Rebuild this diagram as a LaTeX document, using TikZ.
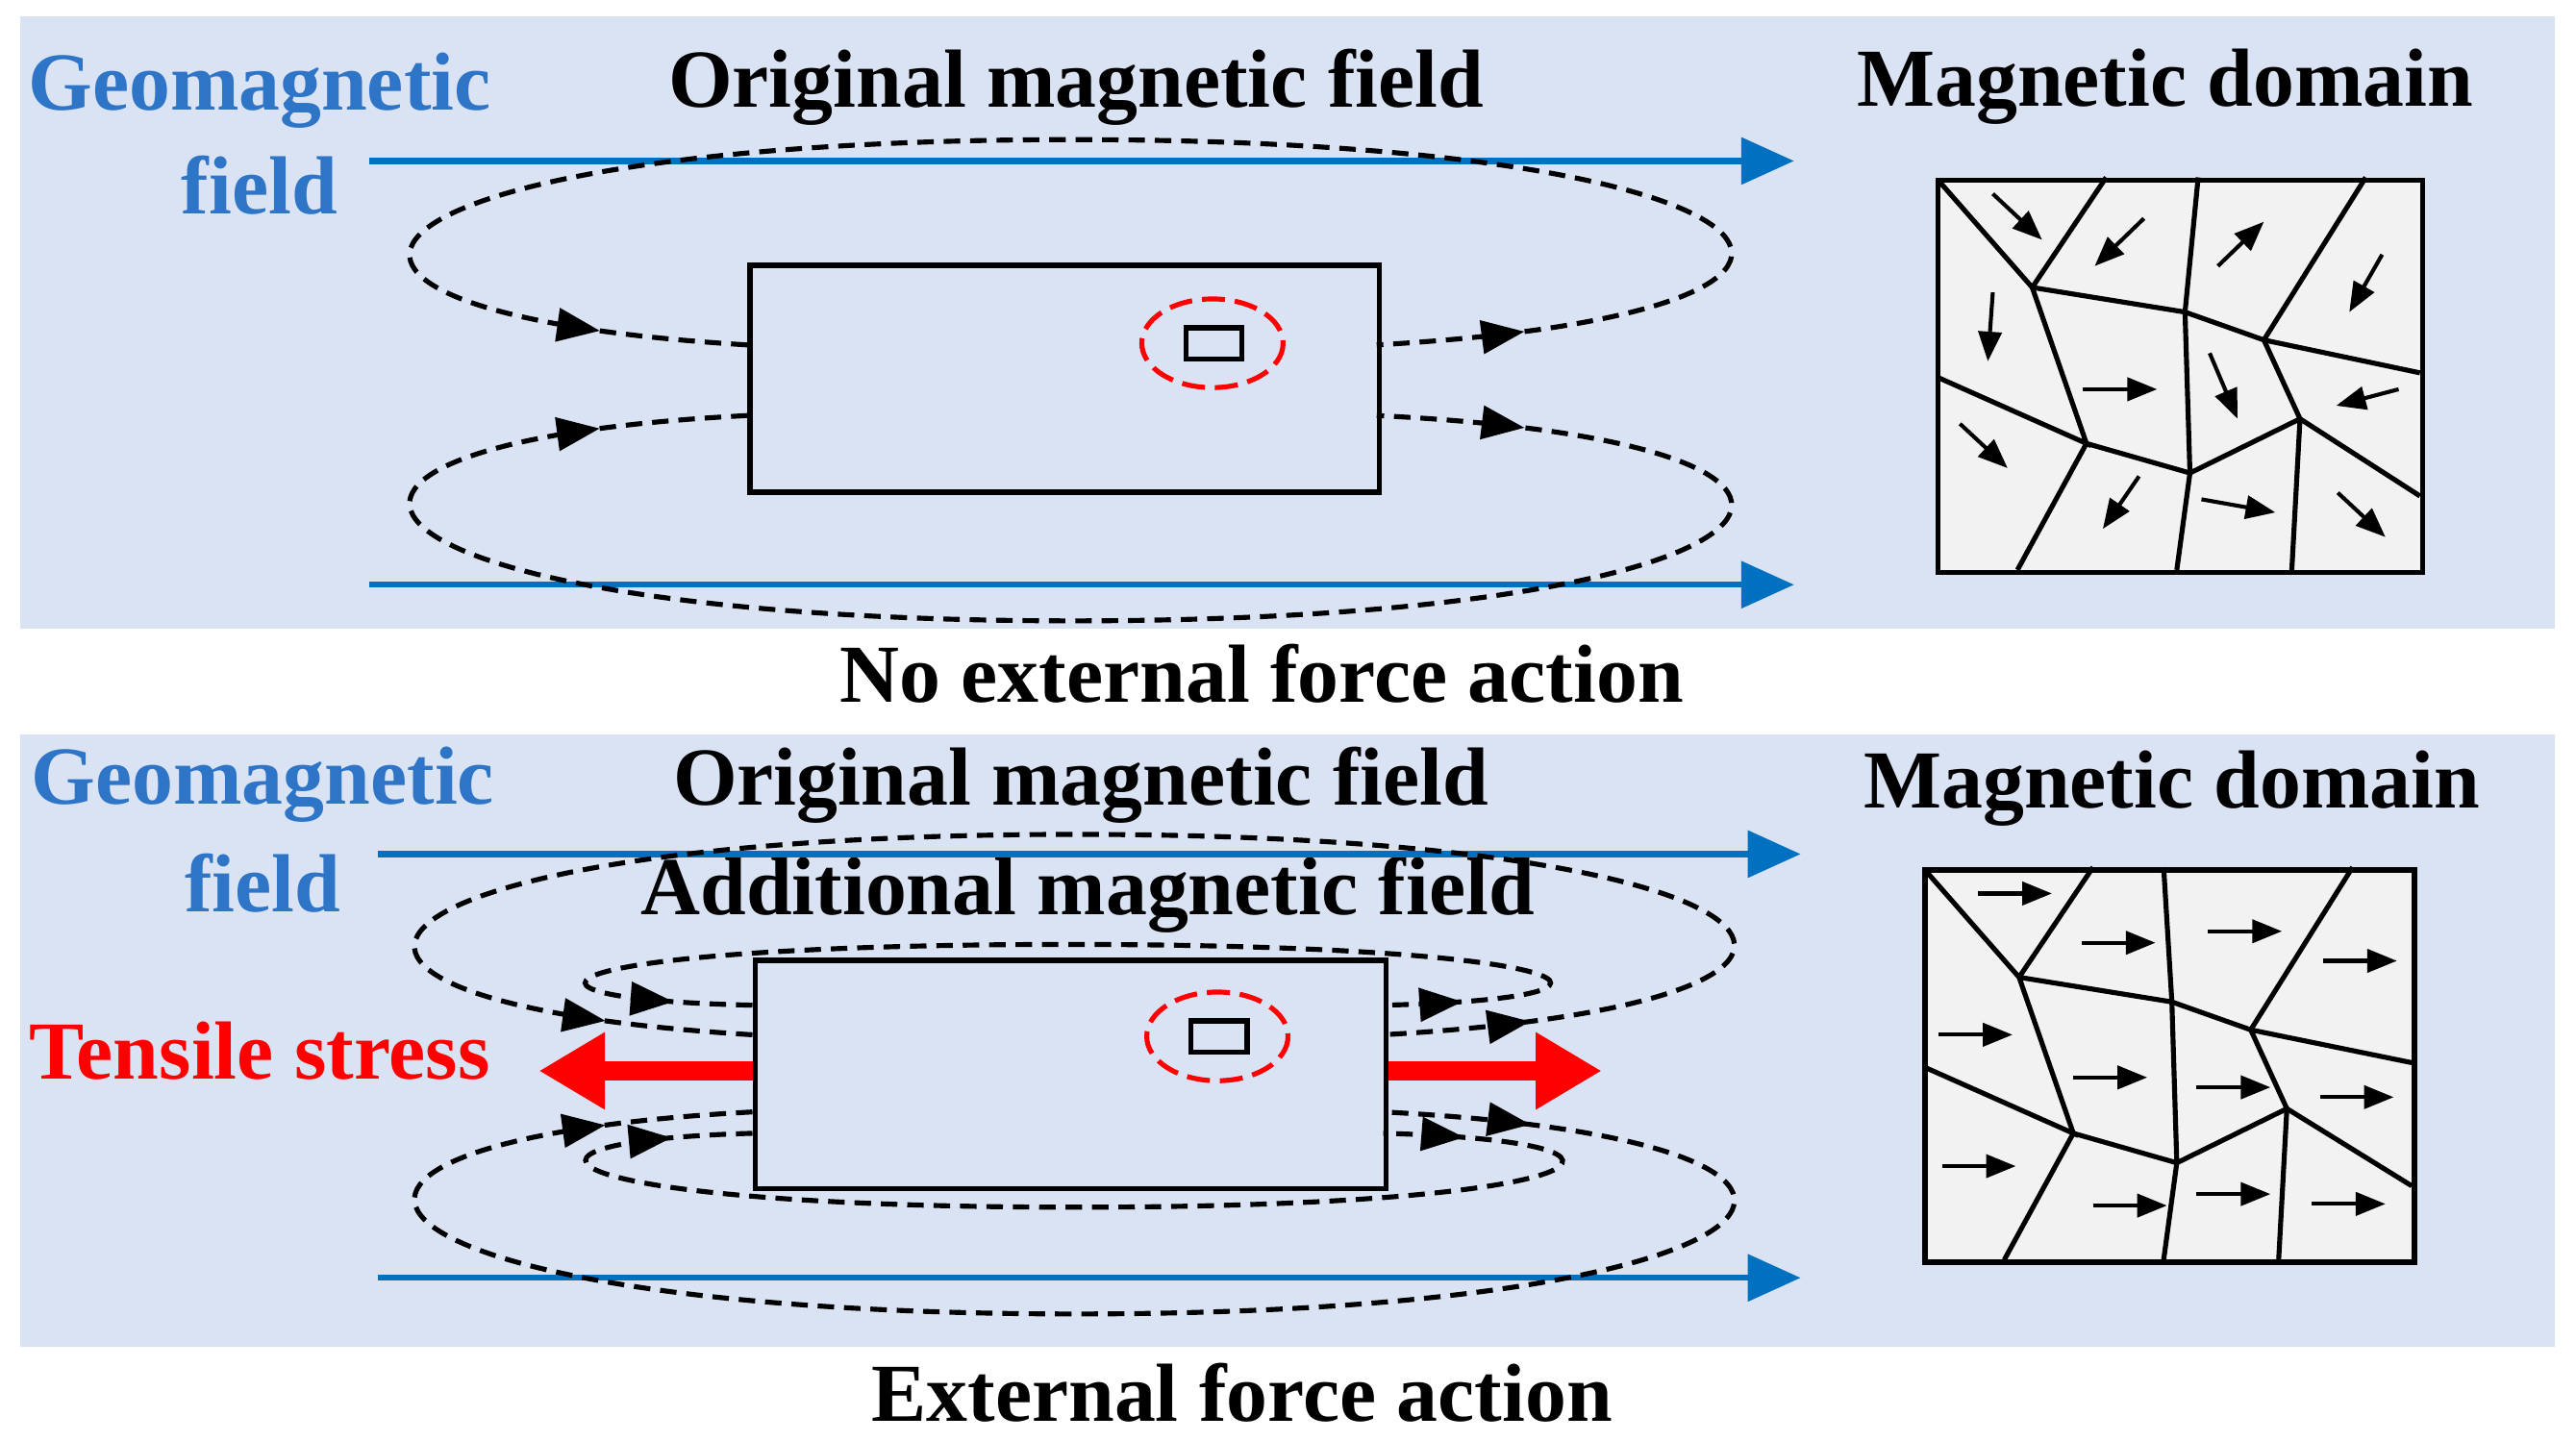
\documentclass[tikz,border=0pt]{standalone}
\usepackage{fontspec}
\setmainfont{Liberation Serif}
\usetikzlibrary{arrows.meta,decorations.markings}
\definecolor{bg}{RGB}{218,227,243}
\definecolor{gblue}{RGB}{46,117,200}
\definecolor{abl}{RGB}{0,112,192}
\definecolor{dom}{RGB}{242,242,242}
\begin{document}
\begin{tikzpicture}[x=0.0175cm,y=-0.0175cm,
 txt/.style={font=\fontsize{25}{27}\selectfont\bfseries,inner sep=0pt},
 geo/.style={txt,text=gblue},
 barr/.style={abl,line width=1.8pt,-{Triangle[length=16pt,width=14pt]}},
 loop/.style 2 args={dash pattern=on 5pt off 3pt,line width=1.5pt,postaction=decorate,
   decoration={markings,mark=at position #1 with {\arrowreversed{Triangle[length=13pt,width=10pt]}},
   mark=at position #2 with {\arrowreversed{Triangle[length=13pt,width=10pt]}}}},
 box/.style={draw,line width=1.6pt},
 dline/.style={line width=1.5pt},
 da/.style={line width=1.2pt,-{Triangle[length=9pt,width=7pt]}},
 rdash/.style={draw=red,dash pattern=on 7pt off 3pt,line width=1.5pt}]
\useasboundingbox (0,0) rectangle (1568,877);
% panels
\fill[bg] (12,10) rectangle (1555,383);
\fill[bg] (12,447) rectangle (1555,820);

% ---------- top panel ----------
\node[geo] (g1) at (158,55) {Geomagnetic};
\node[geo] (f1) at (158,113) {field};
\node[txt] (o1) at (655,53) {Original magnetic field};
\node[txt] (m1) at (1318,53) {Magnetic domain};
\node[txt] (c1) at (768,410) {No external force action};
\coordinate (ba1) at (225,98); \coordinate (bb1) at (1092,98);
\coordinate (ba2) at (225,356); \coordinate (bb2) at (1092,356);
\draw[barr] (ba1) -- (bb1);
\draw[barr] (ba2) -- (bb2);
\node[box,minimum width=383*0.0175cm,minimum height=138*0.0175cm,anchor=north west] (r1) at (455,160) {};
\draw[loop={0.07}{0.93}] (455,210) .. controls (120,190) and (200,85) .. (653,85) .. controls (1106,85) and (1186,190) .. (838,210);
\draw[loop={0.07}{0.93}] (455,253) .. controls (120,270) and (200,378) .. (653,378) .. controls (1106,378) and (1186,270) .. (838,253);
\draw[rdash] (738,209) ellipse [x radius=43,y radius=27];
\node[box,minimum width=34*0.0175cm,minimum height=19*0.0175cm,inner sep=0pt] (s1) at (739,209) {};

% domain top
\begin{scope}
\node[box,fill=dom,minimum width=295*0.0175cm,minimum height=239*0.0175cm,anchor=north west,inner sep=0pt] (d1) at (1178,108) {};
\draw[dline] (1180,110)--(1237,175)--(1282,108);
\draw[dline] (1237,175)--(1330,190)--(1378,207)--(1473,227);
\draw[dline] (1330,190)--(1338,108);
\draw[dline] (1378,207)--(1440,108);
\draw[dline] (1180,230)--(1270,270)--(1237,175);
\draw[dline] (1270,270)--(1333,288)--(1400,255)--(1378,207);
\draw[dline] (1330,190)--(1333,288);
\draw[dline] (1400,255)--(1473,302);
\draw[dline] (1270,270)--(1228,347);
\draw[dline] (1333,288)--(1325,347);
\draw[dline] (1400,255)--(1395,347);
\draw[da] (1213,118)--(1243,146);
\draw[da] (1305,133)--(1275,162);
\draw[da] (1350,162)--(1378,135);
\draw[da] (1450,155)--(1430,190);
\draw[da] (1213,178)--(1210,220);
\draw[da] (1268,237)--(1313,237);
\draw[da] (1345,215)--(1362,255);
\draw[da] (1460,237)--(1422,247);
\draw[da] (1193,258)--(1222,285);
\draw[da] (1302,290)--(1280,322);
\draw[da] (1340,304)--(1385,312);
\draw[da] (1423,300)--(1452,327);
\end{scope}

% ---------- bottom panel ----------
\node[geo] (g2) at (160,478) {Geomagnetic};
\node[geo] (f2) at (160,538) {field};
\node[txt] (o2) at (658,478) {Original magnetic field};
\node[txt] (a2) at (662,545) {Additional magnetic field};
\node[txt] (m2) at (1322,480) {Magnetic domain};
\node[txt] (c2) at (756,848) {External force action};
\node[txt,text=red] (t2) at (158,640) {Tensile stress};
\coordinate (bc1) at (230,520); \coordinate (bd1) at (1096,520);
\coordinate (bc2) at (230,778); \coordinate (bd2) at (1096,778);
\draw[barr] (bc1) -- (bd1);
\draw[barr] (bc2) -- (bd2);
\node[box,minimum width=384*0.0175cm,minimum height=139*0.0175cm,anchor=north west] (r2) at (458,583) {};
\coordinate (tl) at (328,652); \coordinate (tr) at (975,652);
\draw[red,line width=6pt,-{Triangle[length=20pt,width=22pt]}] (r2.west|-tl) -- (tl);
\draw[red,line width=6pt,-{Triangle[length=20pt,width=22pt]}] (r2.east|-tr) -- (tr);
\draw[loop={0.07}{0.93}] (458,630) .. controls (123,610) and (203,508) .. (655,508) .. controls (1107,508) and (1187,610) .. (842,630);
\draw[loop={0.06}{0.94}] (458,612) .. controls (280,608) and (330,575) .. (650,575) .. controls (970,575) and (1020,608) .. (842,612);
\draw[loop={0.07}{0.93}] (458,677) .. controls (123,695) and (203,800) .. (655,800) .. controls (1107,800) and (1187,695) .. (842,677);
\draw[loop={0.06}{0.94}] (458,690) .. controls (280,695) and (330,735) .. (655,735) .. controls (980,735) and (1030,695) .. (842,690);
\draw[rdash] (741,631) ellipse [x radius=43,y radius=27];
\node[box,minimum width=34*0.0175cm,minimum height=19*0.0175cm,inner sep=0pt] (s2) at (742,631) {};

% domain bottom
\begin{scope}[shift={(-8,420)}]
\node[box,fill=dom,minimum width=298*0.0175cm,minimum height=239*0.0175cm,anchor=north west,inner sep=0pt] (d2) at (1178,108) {};
\draw[dline] (1180,110)--(1237,175)--(1282,108);
\draw[dline] (1237,175)--(1330,190)--(1378,207)--(1476,227);
\draw[dline] (1330,190)--(1325,108);
\draw[dline] (1378,207)--(1440,108);
\draw[dline] (1180,230)--(1270,270)--(1237,175);
\draw[dline] (1270,270)--(1333,288)--(1400,255)--(1378,207);
\draw[dline] (1330,190)--(1333,288);
\draw[dline] (1400,255)--(1476,302);
\draw[dline] (1270,270)--(1228,347);
\draw[dline] (1333,288)--(1325,347);
\draw[dline] (1400,255)--(1395,347);
\foreach \x/\y in {1212/124,1275/154,1352/147,1422/165,1188/210,1270/236,1345/242,1420/248,1190/290,1282/314,1345/307,1415/313}
  \draw[da] (\x,\y)--++(45,0);
\end{scope}
\end{tikzpicture}
\end{document}
